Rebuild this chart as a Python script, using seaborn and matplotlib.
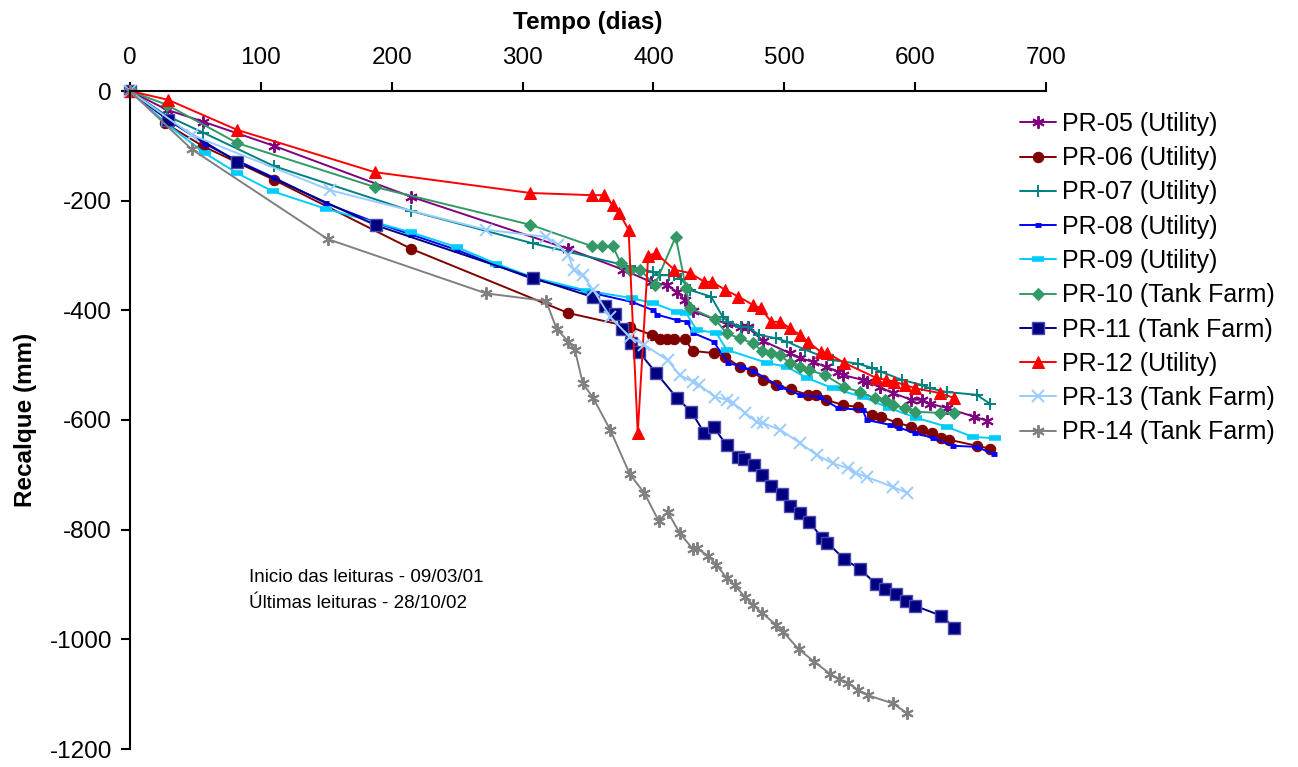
import numpy as np
import pandas as pd
import matplotlib
matplotlib.use("Agg")
import matplotlib.pyplot as plt
import seaborn as sns

# ---------------- data ----------------
x_ticks = [0, 100, 200, 300, 400, 500, 600, 700]
y_ticks = [0, -200, -400, -600, -800, -1000, -1200]

pr05_d = [0, 28, 56, 110, 215, 335, 377, 398, 410, 418, 424, 430, 456, 467, 472, 484, 504, 512, 522, 532, 541, 545, 560, 563, 573, 583, 597, 605, 611, 624, 645, 655]
pr05_v = [0, -34, -56, -100, -193, -288, -326, -348, -354, -366, -381, -401, -425, -431, -431, -456, -478, -487, -494, -503, -512, -518, -527, -530, -540, -551, -563, -563, -570, -578, -594, -601]

pr06_d = [0, 27, 56, 110, 215, 335, 382, 399, 405, 410, 416, 424, 430, 446, 455, 466, 475, 484, 494, 505, 518, 524, 532, 545, 556, 567, 574, 586, 597, 605, 613, 620, 626, 647, 657]
pr06_v = [0, -59, -101, -162, -288, -405, -430, -445, -452, -452, -452, -452, -474, -478, -485, -503, -510, -527, -536, -544, -554, -554, -563, -573, -576, -591, -594, -605, -612, -618, -624, -633, -636, -647, -652]

pr07_d = [0, 28, 56, 110, 215, 308, 382, 400, 405, 412, 416, 421, 428, 444, 453, 457, 467, 472, 481, 494, 502, 516, 537, 556, 567, 574, 590, 605, 611, 624, 647, 657]
pr07_v = [0, -45, -76, -137, -219, -278, -320, -330, -336, -336, -336, -342, -363, -375, -412, -421, -430, -430, -445, -451, -457, -472, -491, -497, -505, -512, -527, -536, -542, -549, -554, -570]

pr08_d = [0, 29, 57, 82, 110, 150, 188, 215, 250, 280, 308, 349, 384, 400, 403, 418, 426, 430, 446, 457, 468, 476, 497, 512, 527, 541, 560, 563, 581, 588, 600, 614, 629, 647, 660]
pr08_v = [0, -52, -96, -127, -158, -205, -240, -262, -290, -318, -343, -366, -385, -400, -408, -418, -421, -441, -457, -496, -503, -510, -540, -554, -558, -578, -582, -600, -609, -614, -624, -633, -647, -649, -662]

pr09_d = [0, 28, 57, 82, 109, 150, 188, 215, 250, 280, 308, 349, 384, 400, 418, 425, 433, 448, 456, 487, 502, 517, 537, 560, 580, 601, 624, 644, 661]
pr09_v = [0, -60, -113, -150, -183, -215, -240, -258, -285, -315, -340, -364, -378, -387, -403, -405, -436, -441, -472, -496, -503, -523, -542, -558, -578, -596, -612, -631, -633]

pr10_d = [0, 28, 82, 187, 306, 353, 361, 369, 375, 382, 390, 401, 417, 425, 428, 447, 456, 466, 476, 483, 490, 497, 504, 512, 519, 531, 546, 558, 569, 577, 583, 592, 600, 619, 630]
pr10_v = [0, -25, -95, -175, -244, -283, -283, -283, -314, -326, -326, -354, -266, -360, -396, -416, -442, -451, -460, -474, -478, -482, -496, -503, -509, -518, -540, -549, -560, -563, -573, -578, -585, -587, -587]

pr11_d = [0, 29, 82, 188, 308, 354, 363, 371, 376, 383, 389, 402, 418, 429, 439, 446, 456, 465, 469, 477, 483, 490, 498, 504, 512, 519, 529, 533, 546, 558, 570, 577, 585, 593, 600, 620, 630]
pr11_v = [0, -53, -129, -245, -341, -376, -392, -406, -434, -460, -476, -514, -560, -585, -624, -613, -646, -667, -671, -682, -700, -720, -735, -757, -770, -786, -815, -824, -854, -872, -899, -908, -917, -931, -939, -957, -979]

pr12_d = [0, 29, 82, 187, 306, 353, 362, 369, 374, 381, 388, 396, 402, 416, 428, 439, 445, 455, 465, 476, 482, 490, 497, 504, 512, 518, 528, 533, 546, 570, 578, 584, 592, 600, 619, 630]
pr12_v = [0, -16, -71, -148, -186, -190, -190, -208, -223, -253, -624, -300, -296, -326, -332, -348, -348, -363, -375, -390, -396, -421, -421, -432, -445, -457, -476, -478, -496, -523, -527, -530, -536, -542, -551, -560]

pr13_d = [0, 47, 153, 272, 318, 327, 335, 339, 346, 354, 367, 382, 393, 411, 420, 430, 435, 447, 456, 461, 470, 479, 484, 497, 512, 525, 537, 549, 555, 563, 583, 594]
pr13_v = [0, -80, -181, -253, -266, -281, -299, -326, -336, -363, -412, -449, -463, -491, -518, -530, -536, -558, -563, -569, -587, -604, -606, -618, -642, -664, -679, -688, -697, -704, -722, -733]

pr14_d = [0, 47, 151, 272, 318, 326, 335, 340, 346, 354, 367, 382, 393, 404, 411, 420, 430, 433, 442, 448, 456, 462, 470, 476, 483, 494, 499, 511, 523, 535, 542, 549, 556, 564, 583, 594]
pr14_v = [0, -106, -270, -369, -383, -434, -457, -472, -533, -560, -618, -699, -733, -784, -768, -806, -835, -834, -848, -864, -888, -901, -923, -937, -952, -974, -986, -1018, -1041, -1063, -1073, -1080, -1092, -1102, -1117, -1135]

names = ["PR-05 (Utility)", "PR-06 (Utility)", "PR-07 (Utility)", "PR-08 (Utility)",
         "PR-09 (Utility)", "PR-10 (Tank Farm)", "PR-11 (Tank Farm)", "PR-12 (Utility)",
         "PR-13 (Tank Farm)", "PR-14 (Tank Farm)"]
days = [pr05_d, pr06_d, pr07_d, pr08_d, pr09_d, pr10_d, pr11_d, pr12_d, pr13_d, pr14_d]
vals = [pr05_v, pr06_v, pr07_v, pr08_v, pr09_v, pr10_v, pr11_v, pr12_v, pr13_v, pr14_v]

note_lines = ["Inicio das leituras - 09/03/01", "Últimas leituras - 28/10/02"]

# ---------------- styles ----------------
colors = ["#800080", "#800000", "#008080", "#0000FF", "#00CCFF",
          "#339966", "#000080", "#FF0000", "#99CCFF", "#808080"]
styles = [
    dict(marker=(6, 2, 0), markersize=9, markeredgewidth=1.4),
    dict(marker="o", markersize=7.5),
    dict(marker="+", markersize=9, markeredgewidth=1.4),
    dict(marker="_", markersize=5, markeredgewidth=3.5),
    dict(marker="_", markersize=8, markeredgewidth=4),
    dict(marker="D", markersize=6),
    dict(marker="s", markersize=8, markeredgecolor="#4a4ab0", markeredgewidth=1),
    dict(marker="^", markersize=8.5),
    dict(marker="x", markersize=8, markeredgewidth=1.4),
    dict(marker=(6, 2, 0), markersize=9, markeredgewidth=1.4),
]

sns.set_style("white")
plt.rcParams["font.family"] = ["Liberation Sans", "DejaVu Sans"]
plt.rcParams["axes.unicode_minus"] = False
plt.rcParams["text.color"] = "black"
plt.rcParams["axes.labelcolor"] = "black"
plt.rcParams["xtick.color"] = "black"
plt.rcParams["ytick.color"] = "black"

fig = plt.figure(figsize=(12.98, 7.67), dpi=100)
ax = fig.add_axes([130 / 1298, 1 - 749 / 767, (1046 - 130) / 1298, (749 - 91) / 767])

for nm, d, v, c, st in zip(names, days, vals, colors, styles):
    kw = dict(st)
    kw.setdefault("markeredgecolor", c)
    sns.lineplot(x=d, y=v, ax=ax, color=c, label=nm, linewidth=1.4,
                 estimator=None, sort=False, markerfacecolor=c, clip_on=False, **kw)

ax.set_xlim(0, 700)
ax.set_ylim(-1200, 0)
ax.set_xticks(x_ticks)
ax.set_yticks(y_ticks)
ax.xaxis.tick_top()
ax.xaxis.set_label_position("top")
for s in ["bottom", "right"]:
    ax.spines[s].set_visible(False)
for s in ["top", "left"]:
    ax.spines[s].set_color("black")
    ax.spines[s].set_linewidth(1.5)
ax.tick_params(axis="x", top=True, bottom=False, direction="out", length=6.5, width=1.5,
               labelsize=17.5, pad=9.5)
ax.tick_params(axis="y", left=True, right=False, direction="out", length=6.5, width=1.5,
               labelsize=17.5, pad=6.5)

ax.set_xlabel("Tempo (dias)", fontsize=17.5, fontweight="bold", labelpad=13)
ax.set_ylabel("Recalque (mm)", fontsize=17.5, fontweight="bold", labelpad=9)

leg = ax.legend(loc="upper left", bbox_to_anchor=(1020 / 1298, 1 - 112 / 767),
                bbox_transform=fig.transFigure, frameon=False, fontsize=18,
                handlelength=1.45, handletextpad=0.22, labelspacing=0.41,
                borderpad=0, borderaxespad=0)

for i, t in enumerate(note_lines):
    fig.text(249 / 1298, 1 - (577 + 27 * i) / 767, t, fontsize=13.5, va="center", ha="left")

fig.savefig("out.png", dpi=100)
